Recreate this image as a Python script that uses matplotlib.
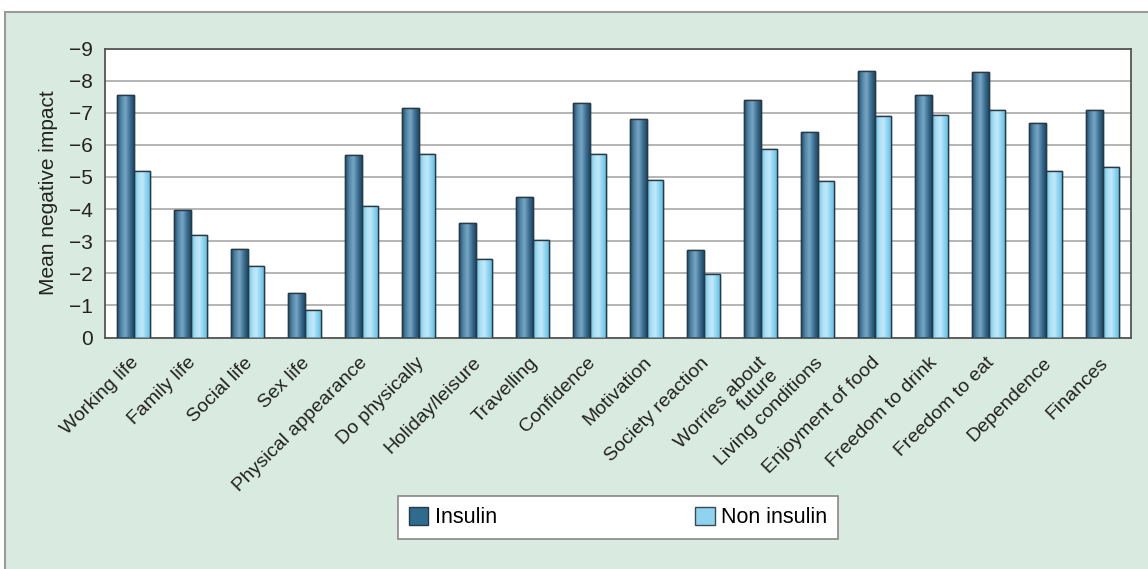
import numpy as np
import matplotlib
matplotlib.use("Agg")
import matplotlib.pyplot as plt
import matplotlib.transforms as mtransforms
from matplotlib.colors import LinearSegmentedColormap
from matplotlib.patches import Rectangle

categories = ["Working life", "Family life", "Social life", "Sex life",
              "Physical appearance", "Do physically", "Holiday/leisure",
              "Travelling", "Confidence", "Motivation", "Society reaction",
              "Worries about\nfuture", "Living conditions", "Enjoyment of food",
              "Freedom to drink", "Freedom to eat", "Dependence", "Finances"]
insulin = [-7.55, -3.96, -2.77, -1.40, -5.67, -7.15, -3.57, -4.36, -7.31,
           -6.80, -2.72, -7.39, -6.41, -8.31, -7.54, -8.27, -6.67, -7.08]
non_insulin = [-5.20, -3.20, -2.23, -0.87, -4.08, -5.71, -2.45, -3.05, -5.71,
               -4.92, -1.99, -5.88, -4.87, -6.90, -6.92, -7.07, -5.19, -5.31]
series_names = ["Insulin", "Non insulin"]
yticks = list(range(0, -10, -1))

plt.rcParams['font.family'] = ['Liberation Sans', 'DejaVu Sans']

W, H = 1148, 569
fig = plt.figure(figsize=(W / 100, H / 100), dpi=100)
fig.patch.set_facecolor("white")

# outer green panel
panel = Rectangle((5 / W, -0.01), 1.01 - 5 / W, 1.01 - 12 / H, transform=fig.transFigure,
                  facecolor="#d9ebe0", edgecolor="#9a9a9a", linewidth=1.5, zorder=-10)
fig.add_artist(panel)

ax = fig.add_axes([105 / W, 1 - 337.5 / H, (1131 - 105) / W, (337.5 - 48.5) / H])
ax.set_facecolor("white")
ax.set_zorder(1)

x = np.arange(len(categories))
bw = 0.29
cmap_ins = LinearSegmentedColormap.from_list(
    "ins", ["#1e4c6b", "#4f86a9", "#7aa6c2", "#3f7398", "#1d4a68"])
cmap_non = LinearSegmentedColormap.from_list(
    "non", ["#62c2e8", "#a9def4", "#c2e9f8", "#8ad2f0", "#5cbde5"])

bars1 = ax.bar(x - bw / 2, insulin, bw, color="#2f6a8f", edgecolor="#2a3a44",
               linewidth=1.0, label=series_names[0], zorder=3)
bars2 = ax.bar(x + bw / 2, non_insulin, bw, color="#8fd3ef", edgecolor="#3a4a54",
               linewidth=1.0, label=series_names[1], zorder=3)

grad = np.linspace(0, 1, 64).reshape(1, -1)
for bars, cm in ((bars1, cmap_ins), (bars2, cmap_non)):
    for b in bars:
        x0, y0 = b.get_x(), b.get_y()
        w, h = b.get_width(), b.get_height()
        im = ax.imshow(grad, cmap=cm, aspect="auto",
                       extent=(x0, x0 + w, y0, y0 + h), zorder=3.5,
                       interpolation="bicubic")
        im.set_clip_path(b)
        edge = Rectangle((x0, y0), w, h, fill=False, edgecolor="#2a3a44",
                         linewidth=1.0, zorder=4)
        ax.add_patch(edge)

ax.set_xlim(-0.5, len(categories) - 0.5)
ax.set_ylim(0, -9)
ax.set_yticks(yticks)
ax.set_yticklabels(["0" if v == 0 else "\u2212%d" % abs(v) for v in yticks])
ax.yaxis.grid(True, color="#a8a8a8", linewidth=1.2, zorder=1)
ax.set_axisbelow(True)
ax.tick_params(axis="y", length=0, pad=9, labelsize=15, colors="#222222")
ax.set_xticks(x)
ax.set_xticklabels(categories, rotation=45, ha="right", rotation_mode="anchor",
                   fontsize=14, color="#222222", linespacing=1.05)
ax.tick_params(axis="x", length=0, pad=12)
off = mtransforms.ScaledTranslation(-3 / 100, 0, fig.dpi_scale_trans)
for lab in ax.get_xticklabels():
    lab.set_transform(lab.get_transform() + off)
ax.set_ylabel("Mean negative impact", fontsize=15, color="#222222", labelpad=8)
for s in ax.spines.values():
    s.set_color("#555555")
    s.set_linewidth(1.3)

leg = fig.legend(handles=[bars1, bars2], labels=series_names, ncol=2,
                 mode="expand", loc="lower left",
                 bbox_to_anchor=(398 / W, 30 / H, 440 / W, 42 / H),
                 fontsize=15.5, frameon=True, fancybox=False,
                 edgecolor="#888888", handlelength=0.9, handleheight=0.9,
                 handletextpad=0.3, borderaxespad=0, borderpad=0.5)
leg.get_frame().set_linewidth(1.2)
leg.get_frame().set_facecolor("white")
leg.get_frame().set_alpha(1)

fig.savefig("out.png", dpi=100, facecolor=fig.get_facecolor())
